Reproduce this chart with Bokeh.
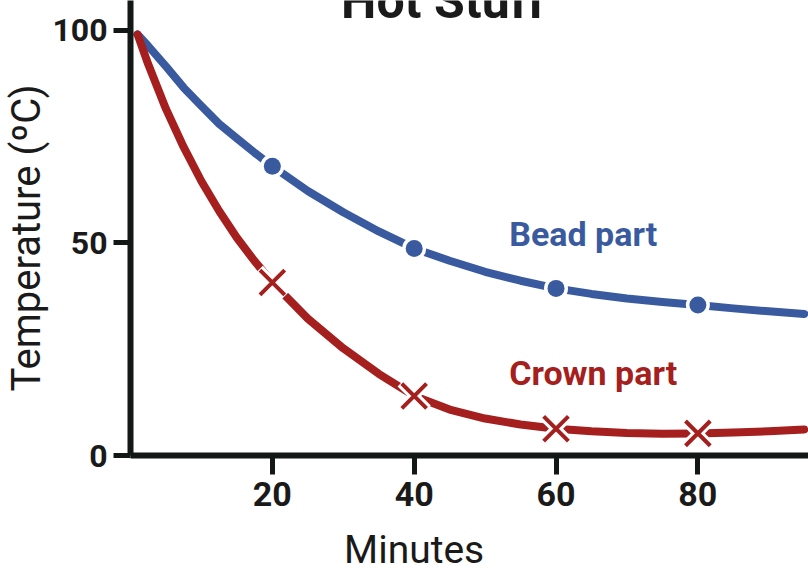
from bokeh.plotting import figure
from bokeh.models import Range1d, FixedTicker, Label, Title, LinearAxis
from bokeh.embed import file_html
from bokeh.resources import INLINE

# ---- data ----
minutes_curve = [1, 2.5, 5, 7.5, 10, 12.5, 15, 17.5, 20, 25, 30, 35, 40, 45, 50, 55, 60, 65, 70, 75, 80, 85, 90, 95]
bead_curve = [99, 96.3, 91.5, 86.5, 82.2, 78, 74.6, 71.2, 68, 62.2, 57.2, 52.7, 48.7, 45.8, 43.2, 41.1, 39.3,
              38.0, 36.9, 36.1, 35.4, 34.6, 33.9, 33.3]
crown_curve = [99, 92, 81.5, 72.5, 64.5, 57.5, 51.2, 45.7, 40.7, 32.2, 25.2, 19.2, 14, 10.8, 8.7, 7.3, 6.3,
               5.7, 5.3, 5.1, 5.2, 5.4, 5.7, 6.1]
sample_minutes = [20, 40, 60, 80]
bead_samples = [68, 48.7, 39.3, 35.4]
crown_samples = [40.7, 14, 6.3, 5.2]
x_ticks = [20, 40, 60, 80]
y_ticks = [0, 50, 100]
x_title_at = 40  # "Minutes" sits centred under x = 40 in the reference

BLUE = "#3a5aa0"
RED = "#a41f1d"
INK = "#131716"
TXT = "#1a1a1a"
FONT = "Roboto"

p = figure(width=808, height=575, output_backend="svg", toolbar_location=None,
           x_range=Range1d(0, 95.6), y_range=Range1d(0, 107.0),
           min_border_left=129, min_border_right=0, min_border_top=0, min_border_bottom=118)
p.title.visible = False
p.outline_line_color = None
p.grid.visible = False
p.background_fill_color = "white"
p.border_fill_color = "white"

for ax in (p.xaxis[0], p.yaxis[0]):
    ax.axis_line_width = 6
    ax.axis_line_color = INK
    ax.major_tick_line_width = 5
    ax.major_tick_line_color = INK
    ax.major_tick_in = 0
    ax.minor_tick_line_color = None
    ax.major_label_text_font = FONT
    ax.major_label_text_font_style = "bold"
    ax.major_label_text_color = TXT

p.xaxis.major_label_text_font_size = "34px"
p.yaxis.major_label_text_font_size = "32px"
p.xaxis.ticker = FixedTicker(ticks=x_ticks)
p.yaxis.ticker = FixedTicker(ticks=y_ticks)
p.xaxis.major_tick_out = 19
p.yaxis.major_tick_out = 17
p.xaxis.major_label_standoff = 7
p.yaxis.major_label_standoff = 6

# x-axis title: a bare second bottom axis whose only label is "Minutes"
title_axis = LinearAxis(ticker=FixedTicker(ticks=[x_title_at]),
                        major_label_overrides={x_title_at: "Minutes"},
                        axis_line_color=None, major_tick_line_color=None, minor_tick_line_color=None,
                        major_tick_out=0, major_tick_in=0, major_label_standoff=18,
                        major_label_text_font=FONT, major_label_text_font_size="39px",
                        major_label_text_font_style="normal", major_label_text_color=TXT)
p.add_layout(title_axis, "below")

# y-axis title
p.add_layout(Title(text="Temperature (ºC)", text_font=FONT, text_font_size="40px", text_font_style="normal",
                   text_color=TXT, align="left", offset=64, standoff=0), "left")

# curves
p.line(minutes_curve, bead_curve, line_width=8, line_color=BLUE, line_cap="round", line_join="round")
p.line(minutes_curve, crown_curve, line_width=8, line_color=RED, line_cap="round", line_join="round")

# sample markers
p.scatter(sample_minutes, bead_samples, size=24, fill_color="white", line_color=None)
p.scatter(sample_minutes, bead_samples, size=17, fill_color=BLUE, line_color=None)
p.scatter(sample_minutes, crown_samples, marker="x", size=37, line_color="white", line_width=10)
p.scatter(sample_minutes, crown_samples, marker="x", size=35, line_color=RED, line_width=4)

# series labels
p.add_layout(Label(x=53.4, y=52.1, text="Bead part", text_color=BLUE, text_font=FONT,
                   text_font_size="34px", text_font_style="bold", text_baseline="middle"))
p.add_layout(Label(x=53.4, y=19.4, text="Crown part", text_color=RED, text_font=FONT,
                   text_font_size="34px", text_font_style="bold", text_baseline="middle"))

# chart title, cropped at the top edge as in the reference
p.add_layout(Label(x=44.1, y=106.95, text="Hot Stuff", text_color=TXT, text_font=FONT,
                   text_font_size="50px", text_font_style="bold", text_align="center",
                   text_baseline="middle"))

open("out.html", "w").write(file_html(p, INLINE))
